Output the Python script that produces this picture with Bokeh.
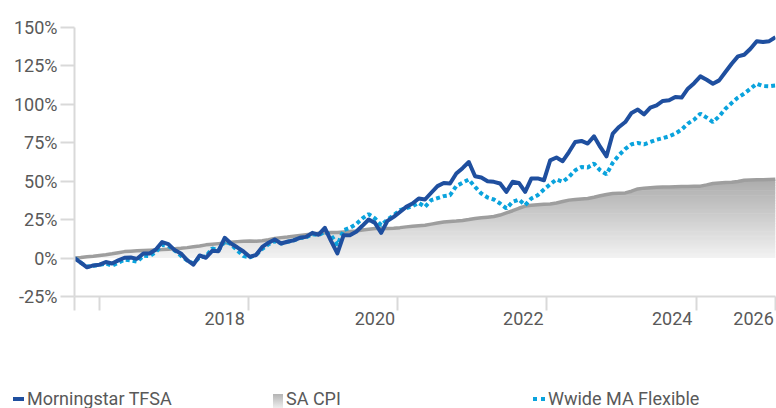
import numpy as np
from bokeh.plotting import figure
from bokeh.layouts import column
from bokeh.models import (Range1d, FixedTicker, PrintfTickFormatter, CustomJSTickFormatter, Div)
from bokeh.embed import file_html
from bokeh.resources import INLINE

# ---- data (monthly index, cumulative % return) ----
months = list(range(113))

tfsa = [0, -3, -6, -4.8, -4.3, -2.6, -3.5, -1.5, 0.2, 0.4,
        -0.5, 3, 3, 5.6, 10.4, 9.1, 5.2, 3, -1.3, -4.3,
        1.7, 0.2, 4.7, 4.5, 13.2, 9.5, 7, 4.3, 0.8, 2,
        7.3, 10, 12.1, 9.5, 10.6, 11.5, 13.2, 13.8, 16.4, 15.2,
        19.7, 11, 3.0, 14.9, 14.9, 17.1, 21, 25.1, 22.9, 16.4,
        24.2, 26.8, 30, 33.3, 35.5, 38.8, 38.1, 42.5, 46.8, 48.9,
        48.5, 55, 58.5, 62.5, 53.2, 52.4, 50, 49.6, 48.5, 43.1,
        49.6, 48.9, 43.1, 51.8, 51.8, 50.6, 63.6, 65.4, 63, 69,
        75.5, 76.2, 74.5, 79.2, 72.3, 66.2, 81, 85.3, 88.5, 94.4,
        96.6, 93.5, 97.9, 99.4, 102.2, 102.6, 104.8, 104.4, 110.2, 113.8,
        118.2, 116, 113.4, 115.6, 121, 126.4, 131.2, 132.3, 136.2, 141.1,
        140.5, 141.1, 143.7]

wwide = [0, -3, -5.5, -5, -4.5, -3.5, -5, -3, -1, -1.5,
         -2.4, 1.5, 1.3, 4, 8.5, 8, 5, 1.5, -1.5, -3.5,
         0.5, 1, 6.3, 5, 11, 9, 5, 1.3, 0.5, 2,
         6, 9, 11, 9.5, 10.5, 11.5, 13, 13.5, 15.5, 15,
         17, 14.9, 8.4, 18.2, 19.7, 22.1, 25.8, 28.6, 25.8, 21.4,
         25.1, 27.9, 31.2, 32.5, 33.8, 35.9, 33.3, 37.7, 39, 40.3,
         40.9, 46.8, 49, 51.1, 46.3, 42, 39.4, 38.1, 35.5, 32.3,
         36.6, 38.1, 34.4, 38.8, 40.9, 44.6, 48, 51.1, 49.6, 52.8,
         57.1, 59.3, 58.9, 61.5, 57.1, 54.5, 62, 67, 71, 74,
         74.9, 74, 75.5, 77, 78, 79.2, 81, 83.6, 87.5, 90.1,
         94, 91.4, 88.5, 92.2, 97.2, 100.9, 104.4, 107, 110.2, 113.4,
         111.9, 111.7, 112.3]

cpi = [0, 0.3, 0.8, 1.2, 1.7, 2.2, 2.8, 3.5, 4.2, 4.5,
       4.7, 4.9, 5.1, 5.3, 5.5, 5.8, 6.1, 6.4, 6.8, 7.3,
       7.8, 8.6, 9.0, 9.4, 9.8, 10.3, 10.7, 11.0, 11.1, 11.0,
       11.3, 12.0, 12.8, 13.3, 13.7, 14.2, 14.7, 15.2, 15.7, 16.1,
       16.4, 16.6, 16.7, 17.0, 17.3, 17.6, 18.2, 18.8, 19.3, 19.3,
       19.3, 19.4, 19.8, 20.3, 20.7, 21.1, 21.4, 22.1, 22.8, 23.4,
       23.8, 24.1, 24.5, 25.1, 25.8, 26.2, 26.6, 27.0, 28.0, 29.4,
       30.8, 32.4, 33.8, 34.3, 34.7, 35.0, 35.2, 35.8, 36.8, 37.7,
       38.1, 38.5, 38.8, 39.6, 40.5, 41.3, 42.0, 42.2, 42.4, 43.5,
       45.0, 45.5, 45.8, 46.0, 46.2, 46.3, 46.4, 46.5, 46.6, 46.7,
       46.8, 47.6, 48.5, 48.8, 49.1, 49.4, 49.8, 50.6, 50.8, 50.9,
       51.0, 51.1, 51.2]

tick_months = [0, 4, 27.8, 51.6, 75.4, 99.4, 112]
label_months = [24.0, 48.0, 71.7, 95.5, 108.5]
year_labels = ["2018", "2020", "2022", "2024", "2026"]
y_ticks = [-25, 0, 25, 50, 75, 100, 125, 150]
series_names = ["Morningstar TFSA", "SA CPI", "Wwide MA Flexible"]

FONT = "Roboto"
TXT = "#595959"
AXC = "#d9d9d9"
C_TFSA = "#1f4f9f"
C_WW = "#0aa3dd"

p = figure(width=776, height=360, output_backend="svg", toolbar_location=None,
           x_range=Range1d(0, 112), y_range=Range1d(-25, 150),
           min_border_left=74, min_border_right=1, min_border_top=27, min_border_bottom=64)
p.xgrid.visible = False
p.ygrid.visible = False
p.outline_line_color = None

# ---- gradient CPI area, built from horizontal bands ----
cpi_arr = np.array(cpi)
top = cpi_arr.max()
n_bands = 48
edges = np.linspace(0, top, n_bands + 1)
light, dark = np.array([243, 243, 243]), np.array([172, 172, 172])
for k in range(n_bands):
    lo, hi = edges[k], edges[k + 1]
    t = (lo + hi) / 2 / top
    c = (light + (dark - light) * t).astype(int)
    col = "#%02x%02x%02x" % tuple(c)
    p.varea(x=months, y1=np.minimum(cpi_arr, lo), y2=np.minimum(cpi_arr, hi + 0.4),
            fill_color=col)
p.line(months, cpi, line_color="#9e9e9e", line_width=3.5)

p.line(months, wwide, line_color=C_WW, line_width=4, line_dash="4 3")
p.line(months, tfsa, line_color=C_TFSA, line_width=4, line_join="round")

# ---- y axis ----
ya = p.yaxis[0]
ya.ticker = FixedTicker(ticks=y_ticks)
ya.formatter = PrintfTickFormatter(format="%d%%")
ya.axis_line_color = AXC
ya.axis_line_width = 2
ya.major_tick_line_color = AXC
ya.major_tick_line_width = 2
ya.major_tick_out = 14
ya.major_tick_in = 0
ya.minor_tick_line_color = None
ya.major_label_standoff = 3
ya.major_label_text_font = FONT
ya.major_label_text_font_size = "18px"
ya.major_label_text_color = TXT

# ---- x axis: tick marks as minor ticks, labels as major ticks ----
xa = p.xaxis[0]
xa.ticker = FixedTicker(ticks=label_months, minor_ticks=tick_months)
xa.formatter = CustomJSTickFormatter(args=dict(pos=label_months, labs=year_labels), code="""
    let best = 0, d = 1e9;
    for (let i = 0; i < pos.length; i++) {
        const dd = Math.abs(pos[i] - tick);
        if (dd < d) { d = dd; best = i; }
    }
    return labs[best];
""")
xa.axis_line_color = AXC
xa.axis_line_width = 2
xa.major_tick_line_color = None
xa.major_tick_out = 0
xa.major_tick_in = 0
xa.minor_tick_line_color = AXC
xa.minor_tick_line_width = 2
xa.minor_tick_out = 14
xa.minor_tick_in = 0
xa.major_label_standoff = 1
xa.major_label_text_font = FONT
xa.major_label_text_font_size = "18px"
xa.major_label_text_color = TXT

# ---- legend strip (HTML text below the chart) ----
def sq(left, top, w, h, bg):
    return (f'<span style="position:absolute;left:{left}px;top:{top}px;width:{w}px;'
            f'height:{h}px;background:{bg};"></span>')

def lab(left, text):
    return (f'<span style="position:absolute;left:{left}px;top:29px;white-space:nowrap;">'
            f'{text}</span>')

legend_html = (
    '<div style="position:relative;width:776px;height:48px;overflow:hidden;'
    f'font-family:{FONT};font-size:18px;line-height:20px;color:{TXT};">'
    + sq(13, 37, 11, 4, C_TFSA) + lab(27, series_names[0])
    + sq(273, 34, 10, 14, "linear-gradient(#b4b4b4,#eeeeee)") + lab(286, series_names[1])
    + sq(533, 37, 4, 4, C_WW) + sq(541, 37, 4, 4, C_WW) + lab(548, series_names[2])
    + '</div>'
)
legend_div = Div(text=legend_html, width=776, height=48, margin=0)

layout = column(p, legend_div, spacing=0)
open("out.html", "w").write(file_html(layout, INLINE))
